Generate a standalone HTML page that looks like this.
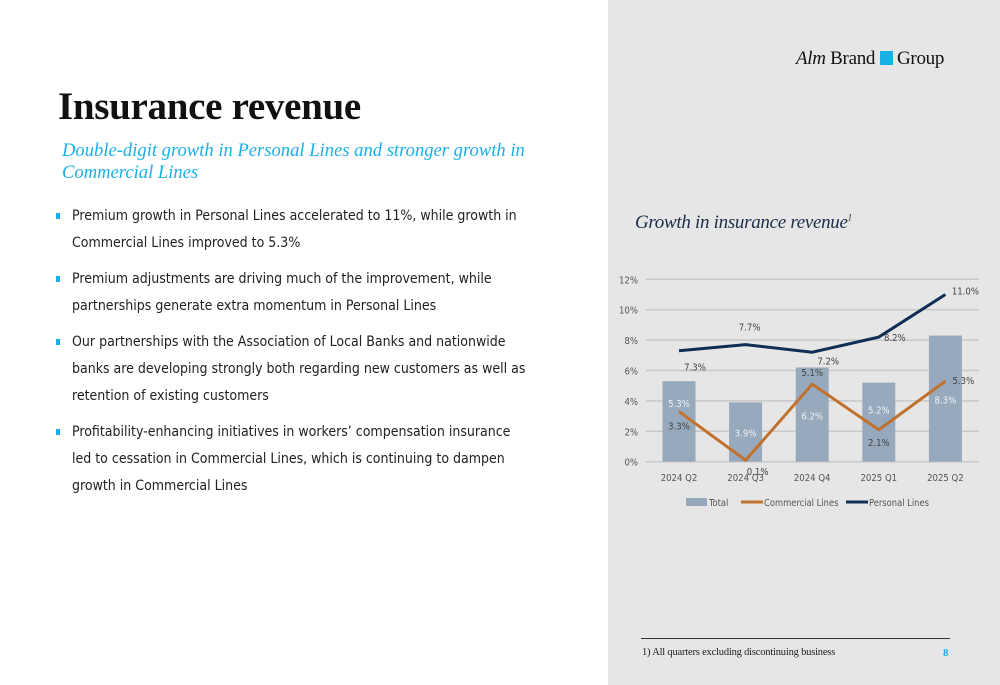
<!DOCTYPE html>
<html><head><meta charset="utf-8"><style>
body{margin:0;width:1000px;height:685px;position:relative;background:#fff;overflow:hidden;font-family:"DejaVu Sans","Liberation Sans",sans-serif}
.panel{position:absolute;left:608px;top:0;width:392px;height:685px;background:#e6e6e6}
.serif{font-family:"Liberation Serif","DejaVu Serif",serif}
h1{position:absolute;left:58px;top:84px;margin:0;font-size:39px;font-weight:bold;color:#111;letter-spacing:-0.3px}
.sub{position:absolute;left:62px;top:140px;font-size:18.6px;font-style:italic;color:#1ab0e6;line-height:22px;width:500px}
ul{position:absolute;left:52px;top:203px;margin:0;padding:0;list-style:none;width:478px}
li{position:relative;padding-left:20px;font-size:14px;line-height:27px;color:#222;margin-bottom:9px;font-family:"DejaVu Sans Condensed","DejaVu Sans",sans-serif}
li:before{content:"";position:absolute;left:4px;top:10px;width:4px;height:6px;background:#1ab0e6}
</style></head><body>
<div class="panel"></div>
<div class="serif" style="position:absolute;left:796px;top:48px;font-size:19px;color:#111;letter-spacing:-0.3px"><i>Alm</i> Brand <span style="display:inline-block;width:13px;height:14px;background:#1ab0e6;vertical-align:-1px"></span> Group</div>
<h1 class="serif">Insurance revenue</h1>
<div class="sub serif">Double-digit growth in Personal Lines and stronger growth in Commercial Lines</div>
<ul>
<li>Premium growth in Personal Lines accelerated to 11%, while growth in Commercial Lines improved to 5.3%</li>
<li>Premium adjustments are driving much of the improvement, while partnerships generate extra momentum in Personal Lines</li>
<li>Our partnerships with the Association of Local Banks and nationwide banks are developing strongly both regarding new customers as well as retention of existing customers</li>
<li>Profitability-enhancing initiatives in workers’ compensation insurance led to cessation in Commercial Lines, which is continuing to dampen growth in Commercial Lines</li>
</ul>
<div class="serif" style="position:absolute;left:635px;top:212px;font-size:19px;font-style:italic;color:#1c2e4a;letter-spacing:-0.3px">Growth in insurance revenue<sup style="font-size:9px">1</sup></div>
<svg id="chart" width="1000" height="685" style="position:absolute;left:0;top:0"></svg>
<div style="position:absolute;left:641px;top:638px;width:309px;border-top:1px solid #333"></div>
<div class="serif" style="position:absolute;left:642px;top:647px;font-size:10.5px;color:#222;letter-spacing:-0.2px">1) All quarters excluding discontinuing business</div>
<div class="serif" style="position:absolute;left:943px;top:647px;font-size:11px;font-weight:bold;color:#1ab0e6">8</div>
<script>
const categories=["2024 Q2","2024 Q3","2024 Q4","2025 Q1","2025 Q2"];
const totalVals=[5.3,3.9,6.2,5.2,8.3];
const commercialVals=[3.3,0.1,5.1,2.1,5.3];
const personalVals=[7.3,7.7,7.2,8.2,11.0];
const yTicks=[0,2,4,6,8,10,12];
const NS="http://www.w3.org/2000/svg";
const svg=document.getElementById('chart');
const y=v=>461.7-v*15.2;
const x=i=>679+i*66.6;
function mk(t,a,txt){const e=document.createElementNS(NS,t);for(const k in a)e.setAttribute(k,a[k]);if(txt!=null)e.textContent=txt;svg.appendChild(e);return e;}
const F='"DejaVu Sans Condensed","Liberation Sans",sans-serif';
yTicks.forEach(t=>{
 const g=mk('line',{x1:646,x2:979,y1:y(t),y2:y(t),stroke:'#c8c8c8','stroke-width':1.5});
 
 
 const l=mk('text',{x:638,y:y(t)+4,'text-anchor':'end','font-size':9.5,fill:'#555','font-family':F},t+'%');
 
 
});
categories.forEach((c,i)=>{
 const b=mk('rect',{x:x(i)-16.5,y:y(totalVals[i]),width:33,height:y(0)-y(totalVals[i]),fill:'#97a9bd'});
 
 
 const l=mk('text',{x:x(i),y:481,'text-anchor':'middle','font-size':9.5,fill:'#555','font-family':F},c);
 
 
});
function line(vals,col,name){
 const p=mk('polyline',{points:vals.map((v,i)=>x(i)+','+y(v)).join(' '),fill:'none',stroke:col,'stroke-width':3});
 
 
}
line(commercialVals,'#c0712d','line-commercial');
line(personalVals,'#0e2f55','line-personal');
function lab(tx,ty,s,col,name){const t=mk('text',{x:tx,y:ty,'text-anchor':'middle','font-size':9.5,fill:col,'font-family':F},s);
 
 }
const totOff=[26,34,52,31,68];
totalVals.forEach((v,i)=>lab(x(i),y(v)+totOff[i],v.toFixed(1)+'%','#eef2f6','label-total'));
const cOff=[[0,18],[12,15],[0,-8],[0,16],[18,3]];
commercialVals.forEach((v,i)=>lab(x(i)+cOff[i][0],y(v)+cOff[i][1],v.toFixed(1)+'%','#444','label-commercial'));
const pOff=[[16,20],[4,-14],[16,12],[16,4],[20,0]];
personalVals.forEach((v,i)=>lab(x(i)+pOff[i][0],y(v)+pOff[i][1],v.toFixed(1)+'%','#444','label-personal'));
const lg=[['rect','#97a9bd','Total',686],['line','#c0712d','Commercial Lines',741],['line','#0e2f55','Personal Lines',846]];
lg.forEach(([t,c,s,lx])=>{
 if(t==='rect'){const r=mk('rect',{x:lx,y:498,width:21,height:8,fill:c});}
 else{const r=mk('line',{x1:lx,x2:lx+22,y1:502,y2:502,stroke:c,'stroke-width':3});}
 const tx=mk('text',{x:lx+23,y:506,'font-size':9.3,fill:'#555','font-family':F},s);
 
 
});
</script>
</body></html>
